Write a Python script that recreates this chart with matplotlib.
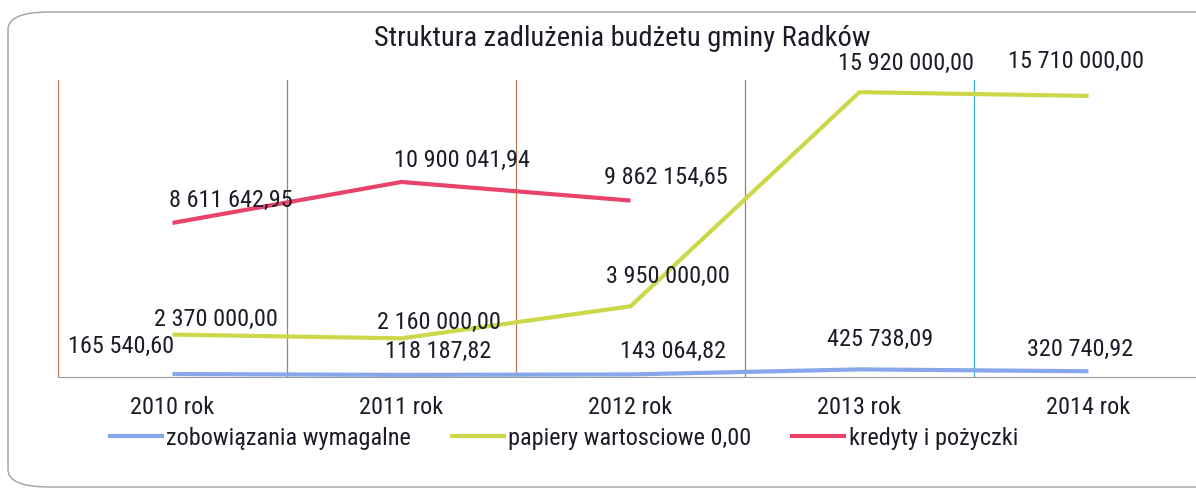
import matplotlib
matplotlib.use("Agg")
import matplotlib.pyplot as plt
from matplotlib.patches import FancyBboxPatch

# data
years = ["2010 rok", "2011 rok", "2012 rok", "2013 rok", "2014 rok"]
zobowiazania = [165540.60, 118187.82, 143064.82, 425738.09, 320740.92]
papiery = [2370000.00, 2160000.00, 3950000.00, 15920000.00, 15710000.00]
kredyty = [8611642.95, 10900041.94, 9862154.65]

zob_labels = ["165 540,60", "118 187,82", "143 064,82", "425 738,09", "320 740,92"]
pap_labels = ["2 370 000,00", "2 160 000,00", "3 950 000,00", "15 920 000,00", "15 710 000,00"]
kre_labels = ["8 611 642,95", "10 900 041,94", "9 862 154,65"]

# label offsets (pixels) as they sit in the original
zob_off = [(-51, 28), (37, 23), (43, 23), (21, 30), (-8, 22)]
pap_off = [(43, 15), (37, 16), (37, 30), (47, 29), (-13, 34)]
kre_off = [(58, 22), (60, 22), (35, 23)]

plt.rcParams['font.family'] = ['Roboto Condensed', 'DejaVu Sans']
txt = "#1c1c28"
fs = 17.5

fig = plt.figure(figsize=(11.96, 4.96), dpi=100)
fig.patches.append(FancyBboxPatch((8/1196, 9/496), 1.2, 475/496,
                                  boxstyle="round,pad=0,rounding_size=0.035",
                                  transform=fig.transFigure, fc="none",
                                  ec="#a0a0a0", lw=1.0, zorder=-5))

ax = fig.add_axes([58/1196, 119/496, 1145/1196, 297/496])
ax.patch.set_alpha(0)
x = list(range(len(years)))

l1, = ax.plot(x, zobowiazania, color="#86a8e8", lw=3, solid_capstyle="butt")
l2, = ax.plot(x, papiery, color="#cbd84a", lw=3, solid_capstyle="butt")
l3, = ax.plot(x[:len(kredyty)], kredyty, color="#e8436a", lw=3, solid_capstyle="butt")

for vals, labs, offs in [(zobowiazania, zob_labels, zob_off),
                         (papiery, pap_labels, pap_off),
                         (kredyty, kre_labels, kre_off)]:
    for i, (v, s, o) in enumerate(zip(vals, labs, offs)):
        ax.annotate(s, (i, v), xytext=o, textcoords="offset pixels",
                    ha="center", va="center", fontsize=fs, color=txt)

ax.set_xlim(-0.5, 4.5)
ax.set_ylim(0, 16600000)
for b in [-0.5, 0.5, 1.5, 2.5]:
    ax.axvline(b, color="#b47a5a", lw=0.9, zorder=0)
ax.axvline(3.5, color="#3fb0cc", lw=0.9, zorder=0)

for s in ["top", "right", "left"]:
    ax.spines[s].set_visible(False)
ax.spines["bottom"].set_color("#9a9aa0")
ax.set_yticks([])
ax.set_xticks(x)
ax.set_xticklabels(years, fontsize=fs, color=txt)
ax.tick_params(axis="x", length=0, pad=14)

fig.text(622/1196, 1 - 38/496, "Struktura zadlużenia budżetu gminy Radków",
         ha="center", va="center", fontsize=20.5, color=txt)

fig.legend([l1, l2, l3],
           ["zobowiązania wymagalne", "papiery wartosciowe 0,00", "kredyty i pożyczki"],
           loc="center", bbox_to_anchor=(563/1196, 1 - 438/496), ncol=3,
           frameon=False, fontsize=fs, handlelength=2.3, handletextpad=0.1,
           columnspacing=1.6, labelcolor=txt)

fig.savefig("out.png", dpi=100)
